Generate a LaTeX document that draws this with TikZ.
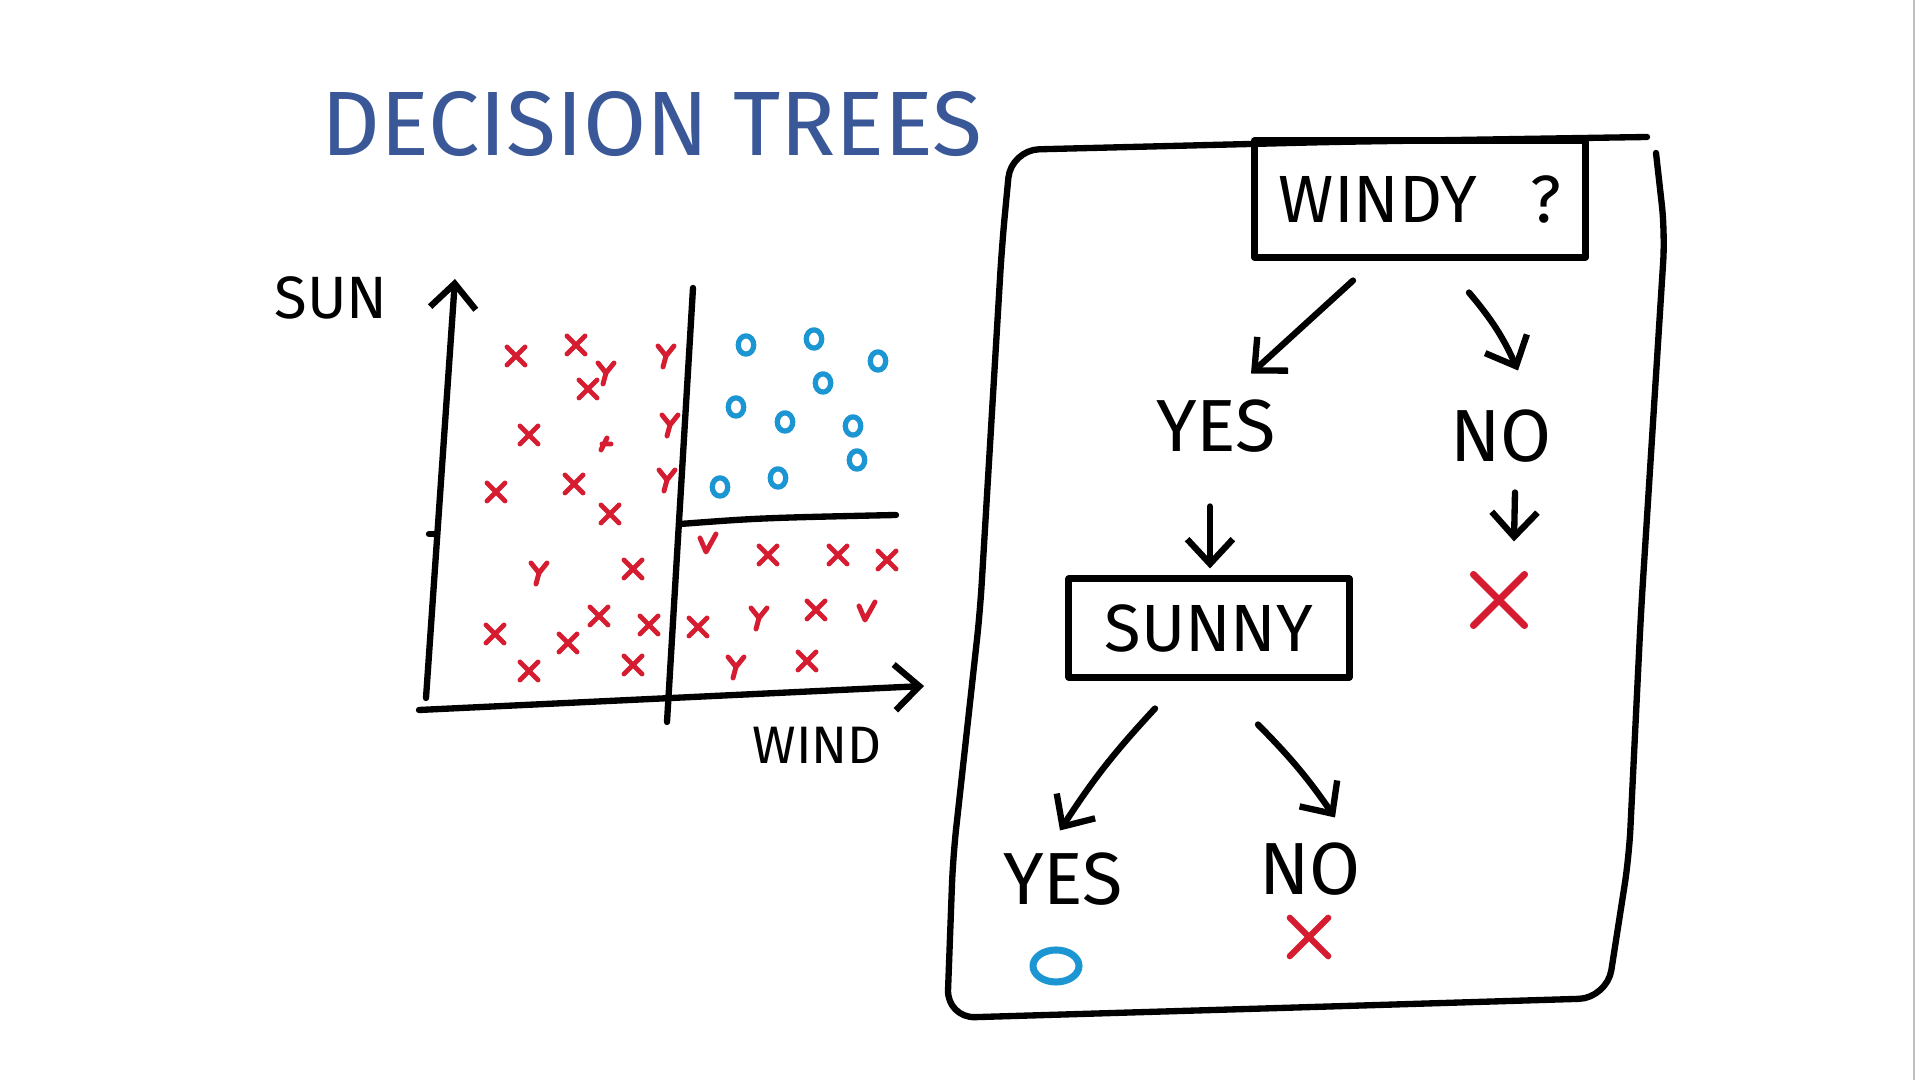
\documentclass[tikz,border=0pt]{standalone}
\usepackage{fontspec}
\setmainfont{Fira Sans}
\usetikzlibrary{arrows.meta,shapes.geometric,shapes.misc}
\definecolor{penblue}{RGB}{58,88,152}
\definecolor{penred}{RGB}{214,28,48}
\definecolor{pencyan}{RGB}{28,150,210}
\tikzset{every path/.style={line width=1.8pt,line cap=round,line join=round},
  lbl/.style={inner sep=0pt,font=\fontsize{21}{23}\selectfont},
  decbox/.style={draw,line width=2pt,inner sep=0pt,font=\fontsize{19}{21}\selectfont},
  arr/.style={-{Straight Barb[length=7pt,width=13pt]}},
  xmark/.style={penred,line width=1.4pt},
  omark/.style={pencyan,line width=1.5pt}}

\begin{document}
\begin{tikzpicture}[x=0.01cm,y=-0.01cm]
  \useasboundingbox (0,0) rectangle (1920,1080);
  \draw[black!25,line width=0.6pt] (1914,0) -- (1914,1080);
  \node[penblue,font=\fontsize{26}{30}\selectfont] (title) at (652,124) {DECISION TREES};

  % scatter plot
  \begin{scope}
   \coordinate (ybot) at (426,698);
   \coordinate (ytop) at (455,279);
   \coordinate (xleft) at (419,710);
   \coordinate (xright) at (924,686);
   \draw[arr] (ybot) -- (ytop);
   \draw[arr] (xleft) -- (xright);
   \draw (429,534) -- (436,534);
   \draw (693,288) -- (667,722);
   \draw (680,524) .. controls (760,518) .. (896,515);
   \node[lbl,font=\fontsize{17}{19}\selectfont] (sun) at (331,298) {SUN};
   \node[lbl,font=\fontsize{15}{17}\selectfont] (wind) at (817,745) {WIND};
   \foreach \x/\y in {516/356,576/345,588/389,529/435,496/492,574/484,610/514,
     633/569,495/634,568/643,599/616,649/625,529/671,633/665,768/555,838/555,
     887/560,698/627,816/610,807/661}
     \draw[xmark] (\x-9,\y-9) -- (\x+9,\y+9) (\x+9,\y-9) -- (\x-9,\y+9);
   \draw[xmark] (607,438) -- (601,450) (602,444) -- (611,444);
   \foreach \x/\y in {666/356,670/425,667/480,539/573,759/618,736/667,606/373}
     \draw[xmark] (\x-8,\y-10) -- (\x,\y) -- (\x+8,\y-10) (\x,\y) -- (\x-3,\y+11);
   \foreach \x/\y in {708/544,867/612}
     \draw[xmark] (\x-8,\y-6) -- (\x-2,\y+8) -- (\x+8,\y-10);
   \foreach \x/\y in {746/345,814/339,878/361,823/383,736/407,785/422,853/426,
     857/460,778/478,720/487}
     \draw[omark] (\x,\y) ellipse [x radius=2.2pt,y radius=2.6pt];
  \end{scope}

  % tree
  \begin{scope}
   \draw[rounded corners=8pt] (1647,137) -- (1330,142) -- (1011,150)
     -- (1002,245) -- (980,612) -- (953,857) -- (947,1018) -- (1280,1008)
     -- (1607,998) -- (1629,857) -- (1641,612) -- (1665,233) -- (1656,153);
   \node[decbox,minimum width=3.31cm,minimum height=1.16cm] (windy) at (1420,199) {WINDY~~~?};
   \node[lbl] (yes1) at (1216,426) {YES};
   \node[lbl] (no1) at (1501,436) {NO};
   \node[cross out,draw=penred,line width=2pt,minimum size=0.44cm] (leafa) at (1499,600) {};
   \node[decbox,minimum width=2.8cm,minimum height=0.98cm] (sunny) at (1209,628) {SUNNY};
   \node[lbl] (yes2) at (1063,879) {YES};
   \node[lbl] (no2) at (1310,869) {NO};
   \node[ellipse,draw=pencyan,line width=2pt,minimum width=0.46cm,minimum height=0.32cm,inner sep=0pt] (leafb) at (1056,966) {};
   \node[cross out,draw=penred,line width=1.8pt,minimum size=0.32cm] (leafc) at (1309,937) {};
   \draw[arr] ([shift={(-67,20)}]windy.south) -- ([shift={(35,-23)}]yes1.north);
   \draw[arr] ([shift={(49,32)}]windy.south) to[bend left=8] ([shift={(17,-36)}]no1.north);
   \draw[arr] ([shift={(-6,51)}]yes1.south) -- ([shift={(1,-7)}]sunny.north);
   \draw[arr] ([shift={(14,27)}]no1.south) -- ([shift={(15,-33)}]leafa.north);
   \draw[arr] ([shift={(-54,28)}]sunny.south) to[bend right=5] ([shift={(-3,-19)}]yes2.north);
   \draw[arr] ([shift={(49,44)}]sunny.south) to[bend left=5] ([shift={(25,-22)}]no2.north);
  \end{scope}
\end{tikzpicture}
\end{document}
